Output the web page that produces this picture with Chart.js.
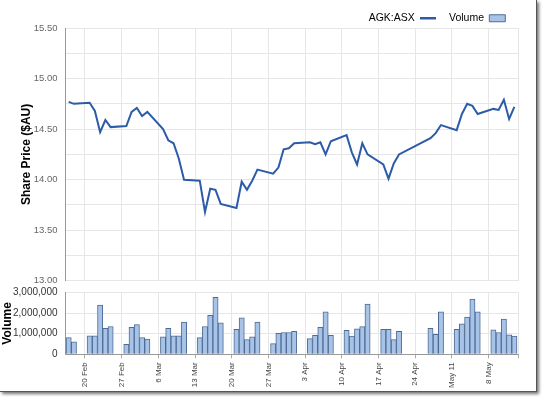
<!DOCTYPE html>
<html>
<head>
<meta charset="utf-8">
<script src="https://cdn.jsdelivr.net/npm/chart.js@4.4.1/dist/chart.umd.min.js"></script>
<style>
body { margin: 0; background: #fff; }
#frame {
    position: absolute; left: 0; top: 0;
    width: 537px; height: 392px; box-sizing: border-box;
    border-right: 1px solid #555; border-bottom: 1px solid #555;
    box-shadow: 2px 2px 3px rgba(0, 0, 0, .55);
    background: #fff;
}
#price { position: absolute; left: 0; top: 0; }
#volume { position: absolute; left: 0; top: 279px; }
</style>
</head>
<body>
<div id="frame">
    <canvas id="price" width="536" height="294"></canvas>
    <canvas id="volume" width="536" height="112"></canvas>
</div>
<script>
// trading days, AGK:ASX
const dates = [
    '2017-02-16', '2017-02-17',
    '2017-02-20', '2017-02-21', '2017-02-22', '2017-02-23', '2017-02-24',
    '2017-02-27', '2017-02-28', '2017-03-01', '2017-03-02', '2017-03-03',
    '2017-03-06', '2017-03-07', '2017-03-08', '2017-03-09', '2017-03-10',
    '2017-03-13', '2017-03-14', '2017-03-15', '2017-03-16', '2017-03-17',
    '2017-03-20', '2017-03-21', '2017-03-22', '2017-03-23', '2017-03-24',
    '2017-03-27', '2017-03-28', '2017-03-29', '2017-03-30', '2017-03-31',
    '2017-04-03', '2017-04-04', '2017-04-05', '2017-04-06', '2017-04-07',
    '2017-04-10', '2017-04-11', '2017-04-12', '2017-04-13', '2017-04-14',
    '2017-04-17', '2017-04-18', '2017-04-19', '2017-04-20',
    '2017-04-26', '2017-04-27', '2017-04-28',
    '2017-05-01', '2017-05-02', '2017-05-03', '2017-05-04', '2017-05-05',
    '2017-05-08', '2017-05-09', '2017-05-10', '2017-05-11', '2017-05-12'
];

const prices = [
    14.77, 14.75,
    14.76, 14.68, 14.47, 14.59, 14.52,
    14.53, 14.67, 14.71, 14.63, 14.67,
    14.50, 14.39, 14.36, 14.21, 14.00,
    13.99, 13.68, 13.91, 13.90, 13.76,
    13.72, 13.98, 13.90, 13.99, 14.10,
    14.06, 14.12, 14.30, 14.31, 14.36,
    14.37, 14.35, 14.37, 14.25, 14.38,
    14.44, 14.27, 14.15, 14.36, 14.25,
    14.15, 14.01, 14.16, 14.25,
    14.41, 14.46, 14.54,
    14.49, 14.65, 14.75, 14.73, 14.65,
    14.70, 14.69, 14.79, 14.60, 14.72
];

const volumes = [
    810000, 610000,
    900000, 900000, 2390000, 1260000, 1350000,
    480000, 1310000, 1440000, 810000, 740000,
    850000, 1260000, 900000, 900000, 1560000,
    810000, 1350000, 1890000, 2760000, 1530000,
    1210000, 1770000, 710000, 850000, 1560000,
    520000, 1020000, 1060000, 1060000, 1110000,
    760000, 920000, 1310000, 2060000, 920000,
    1160000, 890000, 1240000, 1340000, 2440000,
    1210000, 1210000, 710000, 1110000,
    1260000, 970000, 2060000,
    1210000, 1480000, 1810000, 2680000, 2060000,
    1190000, 1060000, 1710000, 940000, 890000
];

// weekly gridlines (Mondays) and their labels
const tickDates = [
    '2017-02-20', '2017-02-27', '2017-03-06', '2017-03-13', '2017-03-20', '2017-03-27',
    '2017-04-03', '2017-04-10', '2017-04-17', '2017-04-24', '2017-05-01', '2017-05-08'
];
const tickLabels = [
    '20 Feb', '27 Feb', '6 Mar', '13 Mar', '20 Mar', '27 Mar',
    '3 Apr', '10 Apr', '17 Apr', '24 Apr', 'May 11', '8 May'
];

const lineColor = '#2c5ba8';
const barFill = '#a7c4e8';
const barBorder = '#4f6b94';
const gridColor = '#e6e6e6';

Chart.defaults.font.family = "'Liberation Sans', Arial, sans-serif";
Chart.defaults.animation = false;

// x is days since the first trading day
const day0 = Date.parse(dates[0]);
const toDay = d => (Date.parse(d) - day0) / 86400000;
const xMin = -0.7, xMax = 85.75;
const gridShift = 0.9; // gridline sits a little before the Monday bar
const xTicks = tickDates.map(d => toDay(d) - gridShift).concat([xMax]);

const pricePoints = dates.map((d, i) => ({ x: toDay(d), y: prices[i] }));
const volumePoints = dates.map((d, i) => ({ x: toDay(d), y: volumes[i] }));

const yWidth = 65;
const padRight = 17.7;

function xAxis(showLabels) {
    return {
        type: 'linear',
        min: xMin,
        max: xMax,
        offset: false,
        afterBuildTicks: axis => { axis.ticks = xTicks.map(v => ({ value: v })); },
        afterFit: axis => { axis.height = showLabels ? 36.7 : 0; },
        grid: {
            color: gridColor,
            offset: false,
            drawTicks: showLabels,
            tickLength: 4,
            tickColor: '#aaa'
        },
        border: { display: showLabels, color: '#999' },
        ticks: {
            display: showLabels,
            autoSkip: false,
            minRotation: 90,
            maxRotation: 90,
            padding: 4,
            color: '#444',
            font: { size: 8 },
            callback: (value, index) => tickLabels[index] ?? ''
        }
    };
}

// share price
new Chart(document.getElementById('price'), {
    type: 'line',
    data: {
        datasets: [{
            label: 'AGK:ASX',
            data: pricePoints,
            borderColor: lineColor,
            borderWidth: 2,
            pointRadius: 0,
            tension: 0
        }]
    },
    options: {
        responsive: false,
        layout: { padding: { left: 0, right: padRight, top: 0, bottom: 6.7 } },
        plugins: {
            tooltip: { enabled: false },
            legend: {
                position: 'top',
                align: 'start',
                rtl: true,
                maxHeight: 28,
                labels: {
                    usePointStyle: true,
                    pointStyleWidth: 16,
                    boxHeight: 7,
                    padding: 13,
                    color: '#333',
                    font: { size: 10.5 },
                    generateLabels: () => [
                        { text: 'Volume', fillStyle: barFill, strokeStyle: barBorder, lineWidth: 1, pointStyle: 'rect' },
                        { text: 'AGK:ASX', fillStyle: lineColor, strokeStyle: lineColor, lineWidth: 2.5, pointStyle: 'line' }
                    ]
                }
            }
        },
        scales: {
            x: xAxis(false),
            y: {
                min: 13,
                max: 15.5,
                afterFit: axis => { axis.width = yWidth; },
                grid: { color: gridColor, drawTicks: false },
                border: { color: '#999' },
                ticks: {
                    stepSize: 0.25,
                    padding: 7.5,
                    color: '#666',
                    font: { size: 9.5 },
                    callback: v => Math.abs(v * 2 - Math.round(v * 2)) < 1e-6 ? v.toFixed(2) : ''
                },
                title: {
                    display: true,
                    text: 'Share Price ($AU)',
                    color: '#000',
                    font: { size: 12, weight: 'bold' },
                    padding: { top: 19, bottom: 0 }
                }
            }
        }
    }
});

// volume
new Chart(document.getElementById('volume'), {
    type: 'bar',
    data: {
        datasets: [{
            label: 'Volume',
            data: volumePoints,
            backgroundColor: barFill,
            borderColor: barBorder,
            borderWidth: 1,
            barPercentage: 1,
            categoryPercentage: 1
        }]
    },
    options: {
        responsive: false,
        layout: { padding: { left: 0, right: padRight, top: 9, bottom: 0 } },
        plugins: {
            legend: { display: false },
            tooltip: { enabled: false }
        },
        scales: {
            x: xAxis(true),
            y: {
                min: 0,
                max: 3000000,
                afterFit: axis => { axis.width = yWidth; },
                grid: { color: gridColor, drawTicks: false },
                border: { color: '#999' },
                ticks: {
                    stepSize: 500000,
                    padding: 7.5,
                    color: '#333',
                    font: { size: 10 },
                    callback: v => v % 1000000 === 0 ? String(v).replace(/\B(?=(\d{3})+(?!\d))/g, ',') : ''
                },
                title: {
                    display: true,
                    text: 'Volume',
                    color: '#000',
                    font: { size: 12, weight: 'bold' },
                    padding: { top: 0, bottom: 0 }
                }
            }
        }
    }
});
</script>
</body>
</html>
